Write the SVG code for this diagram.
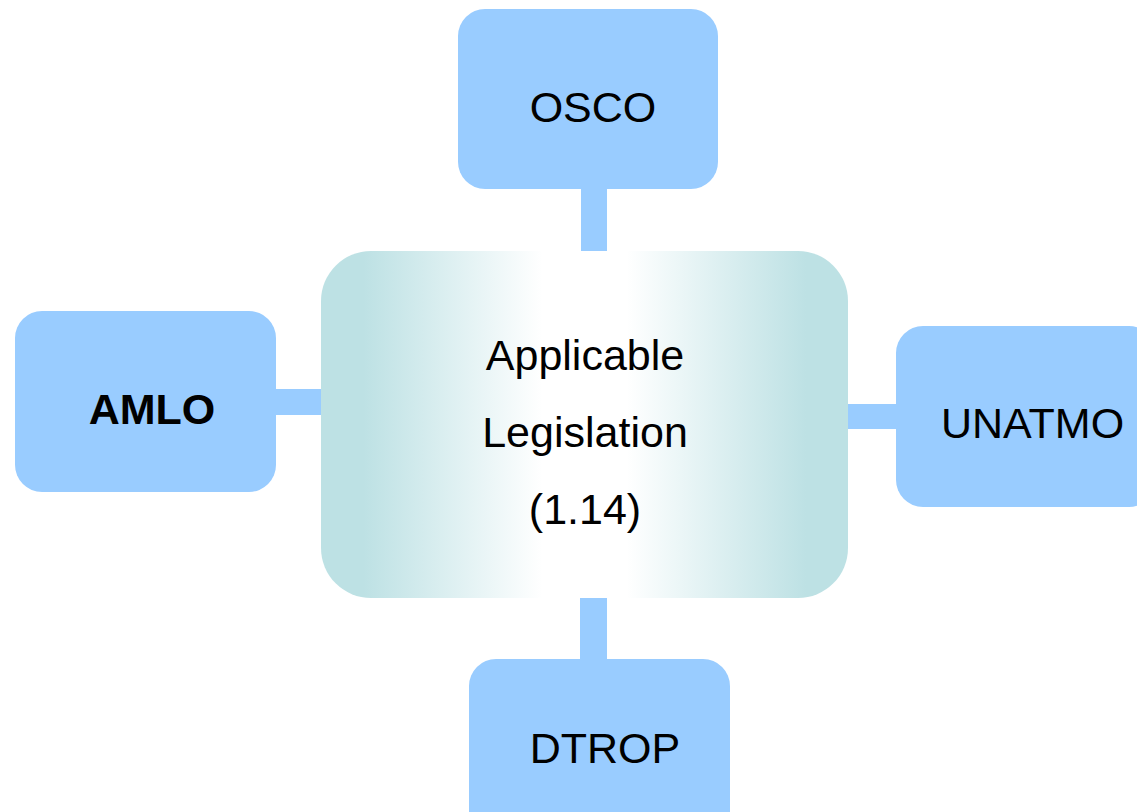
<svg xmlns="http://www.w3.org/2000/svg" width="1137" height="812" viewBox="0 0 1137 812">
  <style>
    .sat { fill: #99ccff; }
    .conn { fill: #99ccff; }
    text { font-family: "Liberation Sans", Arial, sans-serif; font-size: 43px; fill: #000000; }
    .bold { font-weight: bold; }
  </style>
  <defs>
    <linearGradient id="centerGrad" x1="0" y1="0" x2="1" y2="0">
      <stop offset="0" stop-color="#bde1e4"/>
      <stop offset="0.08" stop-color="#bde1e4"/>
      <stop offset="0.42" stop-color="#ffffff"/>
      <stop offset="0.58" stop-color="#ffffff"/>
      <stop offset="0.92" stop-color="#bde1e4"/>
      <stop offset="1" stop-color="#bde1e4"/>
    </linearGradient>
  </defs>
  <rect width="1137" height="812" fill="#ffffff"/>
  <g id="connectors">
    <rect class="conn" x="581" y="188" width="26" height="64"/>
    <rect class="conn" x="275" y="389" width="47" height="26"/>
    <rect class="conn" x="847" y="404" width="50" height="25"/>
    <rect class="conn" x="580" y="597" width="27" height="63"/>
  </g>
  <g id="center">
    <rect x="321" y="251" width="527" height="347" rx="50" ry="50" fill="url(#centerGrad)"/>
    <text x="585" y="370" text-anchor="middle">Applicable</text>
    <text x="585" y="447" text-anchor="middle">Legislation</text>
    <text x="585" y="524" text-anchor="middle">(1.14)</text>
  </g>
  <g id="osco">
    <rect class="sat" x="458" y="9" width="260" height="180" rx="27" ry="27"/>
    <text x="593" y="122" text-anchor="middle">OSCO</text>
  </g>
  <g id="amlo">
    <rect class="sat" x="15" y="311" width="261" height="181" rx="27" ry="27"/>
    <text class="bold" x="152" y="424" text-anchor="middle">AMLO</text>
  </g>
  <g id="unatmo">
    <rect class="sat" x="896" y="326" width="260" height="181" rx="27" ry="27"/>
    <text x="941" y="438">UNATMO</text>
  </g>
  <g id="dtrop">
    <rect class="sat" x="469" y="659" width="261" height="180" rx="27" ry="27"/>
    <text x="605" y="763" text-anchor="middle">DTROP</text>
  </g>
</svg>
